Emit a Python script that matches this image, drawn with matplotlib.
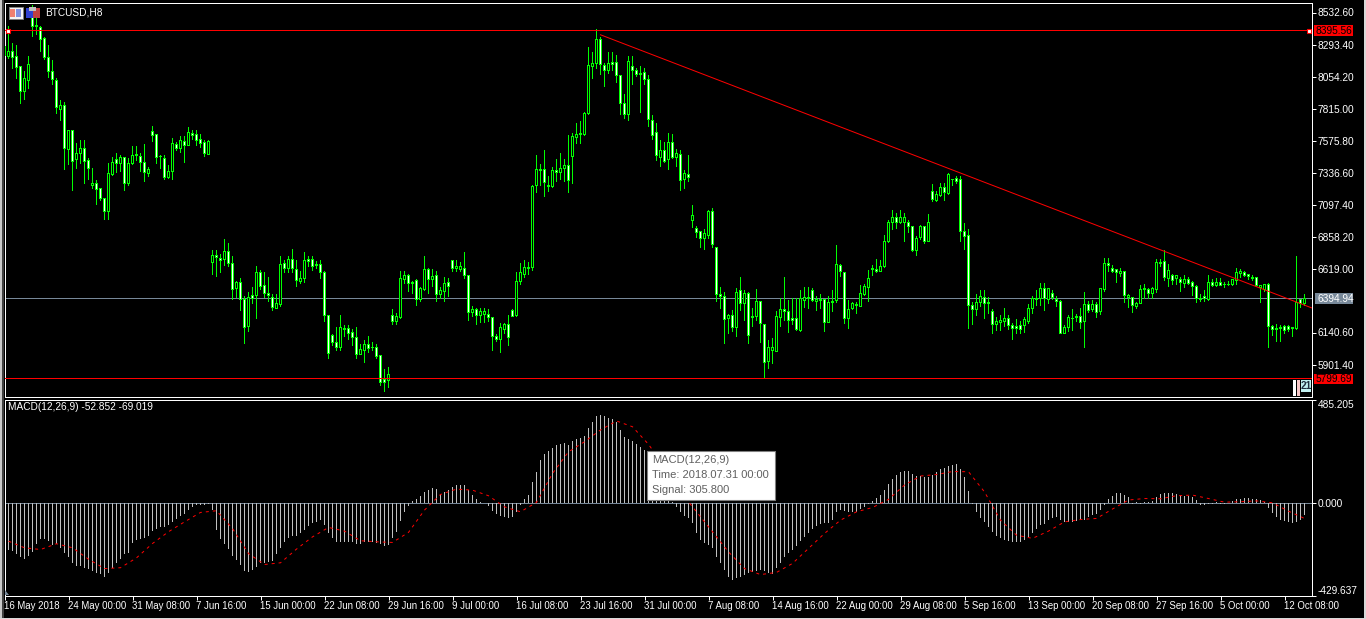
import matplotlib
matplotlib.use("Agg")
import matplotlib.pyplot as plt
from matplotlib.patches import Rectangle, Polygon
import numpy as np

# candles, one every 8 hours
highs = [
    8286,8428,8303,8293,8136,8099,8204,8585,8493,8435,8353,8286,8179,
    8044,7882,7867,7658,7658,7558,7581,7581,7446,7371,7284,7222,7147,
    7409,7451,7486,7469,7446,7446,7531,7533,7486,7546,7381,7685,7626,
    7464,7464,7396,7591,7568,7606,7606,7680,7655,7658,7626,7583,7581,
    6754,6761,6729,6836,6808,6716,6529,6549,6417,6447,6479,6634,6609,
    6592,6552,6425,6425,6716,6679,6709,6764,6679,6597,6739,6716,6709,
    6674,6679,6604,6273,6126,6185,6275,6193,6200,6170,6185,6056,6081,
    6111,6066,6056,5969,5871,5879,6320,6290,6597,6597,6579,6522,6542,
    6484,6716,6624,6617,6597,6484,6559,6549,6684,6679,6666,6739,6567,
    6335,6325,6325,6325,6313,6260,6131,6210,6210,6268,6320,6592,6659,
    6686,6666,7240,7469,7401,7506,7312,7381,7439,7486,7439,7618,7633,
    7708,7723,7790,8276,8234,8406,8353,8156,8239,8234,8216,8069,7920,
    8204,8211,8119,8136,8121,8067,7763,7703,7576,7568,7633,7628,7513,
    7506,7352,7464,7090,6933,6903,6915,7060,7072,6773,6482,6447,6280,
    6312,6474,6559,6455,6445,6327,6469,6372,6205,6088,6103,6298,6402,
    6559,6380,6402,6402,6455,6482,6484,6474,6410,6432,6390,6410,6455,
    6798,6654,6594,6387,6367,6367,6499,6504,6606,6646,6691,6679,6873,
    6978,7053,7035,7053,7035,6978,6940,6861,6945,6940,7028,7247,7202,
    7259,7259,7334,7289,7314,7314,6960,6911,6367,6425,6455,6455,6405,
    6317,6255,6273,6327,6268,6215,6238,6230,6260,6350,6417,6462,6509,
    6512,6474,6459,6417,6385,6193,6275,6317,6280,6322,6440,6375,6380,
    6365,6474,6699,6699,6646,6616,6621,6597,6430,6405,6372,6499,6504,
    6474,6484,6691,6691,6761,6654,6579,6574,6559,6567,6554,6524,6492,
    6430,6459,6567,6542,6547,6547,6517,6524,6542,6624,6612,6604,6579,
    6567,6559,6497,6504,6509,6193,6205,6193,6200,6200,6185,6716,6392,
    6425]
body_tops = [
    8278,8241,8241,8204,8129,8037,8144,8493,8433,8423,8336,8199,8094,
    8022,7835,7835,7648,7648,7476,7513,7513,7424,7252,7252,7215,7140,
    7327,7414,7431,7446,7446,7401,7461,7469,7454,7414,7357,7640,7618,
    7459,7444,7342,7551,7548,7576,7566,7633,7626,7618,7581,7558,7566,
    6714,6714,6691,6744,6744,6654,6512,6512,6385,6400,6415,6587,6587,
    6489,6430,6405,6355,6646,6654,6684,6684,6614,6542,6676,6684,6684,
    6649,6646,6587,6265,6121,6063,6178,6170,6168,6138,6106,6011,6048,
    6048,6031,6026,5966,5789,5824,6265,6258,6542,6567,6567,6514,6527,
    6467,6609,6609,6559,6567,6455,6504,6514,6679,6631,6631,6617,6564,
    6310,6310,6295,6295,6275,6250,6111,6175,6198,6198,6302,6519,6587,
    6624,6624,7234,7357,7357,7357,7239,7349,7349,7369,7386,7386,7603,
    7623,7628,7775,8134,8149,8328,8328,8139,8149,8156,8156,8059,7855,
    8164,8126,8102,8074,8082,8034,7723,7633,7499,7499,7558,7558,7476,
    7469,7327,7324,7015,6915,6893,6878,7045,7043,6773,6425,6412,6268,
    6265,6437,6455,6430,6430,6263,6370,6370,6200,6026,6026,6258,6310,
    6310,6295,6243,6243,6392,6400,6400,6452,6390,6390,6385,6365,6372,
    6646,6639,6589,6315,6355,6352,6430,6482,6542,6621,6611,6636,6823,
    6960,7003,6998,7003,7003,6965,6935,6841,6930,6930,6960,7197,7170,
    7222,7222,7322,7287,7292,7282,6898,6863,6345,6362,6407,6405,6365,
    6300,6220,6228,6243,6243,6190,6183,6190,6235,6317,6392,6392,6467,
    6467,6467,6430,6390,6372,6180,6250,6248,6260,6260,6350,6347,6347,
    6347,6467,6654,6654,6619,6609,6594,6594,6415,6400,6355,6459,6467,
    6459,6467,6664,6664,6669,6601,6564,6564,6539,6539,6539,6517,6484,
    6392,6410,6517,6517,6517,6517,6502,6502,6534,6592,6594,6592,6577,
    6549,6552,6492,6497,6502,6185,6173,6175,6183,6185,6175,6367,6385,
    6392]
body_bottoms = [
    8211,8206,8199,8124,7945,7945,8027,8430,8425,8328,8199,8094,8029,
    7820,7810,7513,7506,7421,7431,7481,7421,7369,7237,7212,7145,7047,
    7047,7322,7406,7401,7257,7257,7406,7464,7409,7334,7332,7616,7451,
    7454,7302,7302,7342,7518,7513,7541,7541,7616,7578,7556,7476,7471,
    6666,6699,6681,6684,6654,6459,6472,6385,6180,6188,6397,6415,6487,
    6430,6420,6330,6322,6347,6622,6622,6616,6527,6524,6542,6674,6636,
    6644,6587,6265,5986,6063,6031,6031,6163,6136,6106,5976,5979,6008,
    6023,6026,5964,5769,5769,5782,6223,6225,6255,6537,6509,6504,6390,
    6390,6464,6539,6539,6427,6427,6450,6484,6622,6616,6614,6564,6293,
    6293,6270,6270,6278,6255,6108,6091,6091,6165,6106,6263,6268,6519,
    6574,6619,6624,7242,7352,7259,7234,7234,7339,7339,7369,7279,7454,
    7601,7621,7621,7780,8131,8154,8141,8102,8102,8146,8059,7855,7773,
    7773,8102,8067,8067,8034,7730,7616,7461,7451,7416,7431,7451,7451,
    7279,7287,7302,6978,6891,6846,6846,6868,6801,6422,6410,6235,6248,
    6180,6180,6355,6355,6116,6255,6263,6205,5919,5926,6008,5999,6255,
    6300,6233,6233,6163,6158,6382,6392,6382,6375,6380,6213,6218,6362,
    6380,6594,6248,6248,6322,6340,6337,6425,6479,6609,6599,6599,6636,
    6823,6960,6965,6965,6960,6935,6756,6751,6848,6823,6823,7132,7127,
    7165,7187,7182,7282,7272,6898,6861,6345,6315,6315,6362,6355,6355,
    6203,6203,6215,6225,6190,6173,6173,6165,6190,6225,6317,6387,6392,
    6392,6390,6402,6370,6136,6136,6180,6243,6250,6218,6220,6305,6310,
    6293,6298,6464,6639,6594,6587,6584,6415,6400,6345,6335,6355,6459,
    6435,6435,6459,6659,6549,6547,6529,6542,6514,6507,6504,6484,6392,
    6387,6392,6390,6492,6492,6492,6497,6497,6497,6529,6584,6567,6559,
    6542,6489,6474,6464,6183,6160,6160,6168,6155,6163,6170,6170,6355,
    6355]
lows = [
    8186,8186,8111,8032,7845,7875,7962,8353,8361,8241,8174,8042,7994,
    7775,7725,7359,7389,7202,7364,7401,7247,7284,7215,7090,7120,6978,
    6985,7307,7332,7337,7195,7232,7389,7421,7337,7269,7302,7568,7401,
    7366,7284,7289,7277,7494,7486,7404,7531,7583,7538,7523,7456,7464,
    6574,6554,6584,6641,6629,6380,6400,6298,6051,6148,6350,6238,6455,
    6400,6372,6305,6313,6330,6589,6589,6589,6479,6504,6514,6629,6599,
    6614,6537,6218,5946,6036,6001,6006,6106,6086,6043,5946,5974,5909,
    5986,6001,5946,5737,5699,5729,6193,6193,6243,6504,6447,6425,6335,
    6372,6450,6425,6484,6367,6392,6367,6405,6592,6592,6592,6537,6223,
    6253,6193,6210,6210,6218,6006,6073,5991,6131,6036,6255,6260,6492,
    6549,6567,6604,7187,7239,7157,7194,7219,7269,7284,7262,7187,7254,
    7546,7553,7606,7770,8039,8114,8069,7972,8074,8099,8009,7770,7740,
    7718,7987,8049,7778,7994,7680,7576,7419,7374,7409,7359,7441,7381,
    7202,7217,7269,6923,6846,6771,6754,6841,6771,6372,6315,6053,6133,
    6146,6106,6298,6225,6051,6183,6225,6061,5797,5866,5904,5994,6185,
    6225,6136,6193,6155,6141,6322,6315,6372,6300,6315,6141,6208,6293,
    6360,6554,6203,6170,6307,6278,6335,6415,6367,6562,6589,6597,6621,
    6808,6910,6915,6953,6816,6883,6746,6716,6833,6801,6816,7115,7115,
    7152,7120,7170,7232,7247,6816,6754,6170,6193,6263,6330,6238,6280,
    6126,6155,6151,6178,6160,6081,6133,6126,6135,6205,6280,6340,6342,
    6305,6350,6387,6330,6128,6135,6143,6155,6218,6168,6023,6290,6293,
    6250,6275,6440,6592,6589,6514,6554,6360,6325,6285,6317,6350,6392,
    6392,6392,6437,6629,6529,6479,6492,6492,6440,6474,6492,6412,6360,
    6367,6367,6375,6484,6484,6487,6474,6487,6487,6492,6547,6554,6534,
    6524,6479,6360,6447,6023,6113,6068,6068,6126,6148,6106,6160,6322,
    6342]
# U closed higher (black body), D closed lower (white body)
directions = (
    "UUDDDUUDDDDDD" "DUDUDUUDDUDDD" "UUDUDUUDDDUDD" "DDUUDUDUDDDDU" "UDDUDDUDDUDUD"
    "DDDUUDUDDUUDD" "DDDDDDUDDDDUU" "DDDDDUDUUUDDD" "UUDUDUUDDUUDD" "UDUUDDDUUDDUU"
    "UDUUDDUUDUUDU" "UDUUUUDDUDDDD" "UDDDDDDDUDUDU" "DUDUDDUUDDDDU" "DUDUDDUDDUUUU"
    "DDDDUUDDUDDUD" "UDDUUDUUUUDUU" "UUDUUDDUUDUDU" "UDUDDDDDDUUDD" "DUUUDDDDUUUDU"
    "DUDDDUUDDDUDU" "DUUDDDUDUDUUD" "DUUUDUDUDUDDD" "DDUDUDUDUUUDD" "UDUUDDUDDDDUD"
    "U")

# MACD histogram, one bar per candle from the second candle on
macd_bars = [
    -218,-223,-234,-252,-257,-246,-226,-187,-167,-167,-176,-192,-190,
    -206,-230,-249,-280,-290,-293,-300,-307,-313,-325,-330,-343,-324,
    -300,-277,-257,-234,-229,-185,-171,-168,-163,-153,-129,-120,-111,
    -112,-101,-87,-73,-58,-47,-31,-17,-8,-5,-8,-3,-31,
    -125,-167,-190,-213,-244,-265,-285,-316,-319,-311,-296,-280,-277,
    -272,-268,-234,-207,-182,-160,-153,-154,-140,-125,-106,-93,-86,
    -78,-101,-140,-163,-181,-181,-181,-181,-181,-190,-190,-181,-181,
    -181,-184,-190,-199,-195,-160,-134,-83,-42,-12,11,19,34,
    53,62,72,67,45,54,65,78,86,86,86,65,39,
    19,8,1,-12,-34,-51,-58,-62,-67,-62,-42,-8,20,
    39,98,145,202,229,244,260,272,277,282,272,293,300,
    307,316,353,381,409,413,409,400,394,378,343,308,300,
    291,277,265,249,234,202,160,117,78,39,8,-16,-39,
    -58,-70,-93,-140,-171,-184,-195,-210,-252,-280,-311,-343,-355,
    -347,-343,-335,-324,-319,-316,-311,-315,-324,-327,-299,-276,-252,
    -230,-218,-198,-174,-156,-137,-120,-104,-98,-93,-90,-78,-42,
    -31,-34,-39,-42,-39,-28,-16,-3,12,26,39,62,93,
    114,132,146,151,151,137,128,128,125,125,132,145,160,
    167,176,179,184,159,125,58,-3,-39,-70,-86,-109,-135,
    -151,-163,-171,-174,-179,-179,-179,-171,-157,-139,-121,-101,-97,
    -78,-70,-62,-78,-86,-86,-86,-83,-78,-78,-62,-55,-50,
    -31,-8,20,34,47,51,39,31,-1,5,-1,5,5,
    11,30,45,48,48,48,44,39,36,36,31,16,-5,
    -8,-1,-1,5,-1,-1,3,11,19,23,25,25,23,
    20,14,9,-20,-45,-62,-75,-83,-86,-92,-86,-75,-55]

# signal line, read at every fourth candle starting from the second
signal_step = 4
signal_values = [
    -176,-207,-215,-188,-207,-260,-304,-300,-254,-187,-132,-86,-42,-34,-117,-234,
    -285,-277,-213,-156,-112,-129,-174,-179,-182,-135,-31,42,67,62,36,-16,
    -39,5,140,241,288,343,385,358,276,171,54,-39,-132,-226,-304,-332,
    -322,-280,-210,-140,-78,-39,-19,19,86,128,135,149,148,54,-78,-148,
    -163,-129,-86,-75,-70,-26,16,23,22,36,39,23,6,8,12,3,-36,-70]

price_ticks = [8532.60, 8293.40, 8054.20, 7815.00, 7575.80, 7336.60, 7097.40,
               6858.20, 6619.00, 6140.60, 5901.40]
macd_ticks = [485.205, 0.0, -429.637]
time_labels = ["16 May 2018", "24 May 00:00", "31 May 08:00", "7 Jun 16:00", "15 Jun 00:00",
               "22 Jun 08:00", "29 Jun 16:00", "9 Jul 00:00", "16 Jul 08:00", "23 Jul 16:00",
               "31 Jul 00:00", "7 Aug 08:00", "14 Aug 16:00", "22 Aug 00:00", "29 Aug 08:00",
               "5 Sep 16:00", "13 Sep 00:00", "20 Sep 08:00", "27 Sep 16:00", "5 Oct 00:00",
               "12 Oct 08:00"]
time_step = 16

resistance = 8395.56
support = 5799.69
last_price = 6394.94
trend_bars = [149, 326.75]
trend_prices = [8366, 6325]

W, H = 1366, 619
GREEN = "#00FF00"
SLATE = "#778899"
PX = 0.72  # one screen pixel in points
BAR_PX = 0.25  # one screen pixel in candle units (4 px per candle)
PRICE_PX = 7.475  # one screen pixel in price units
plt.rcParams["font.family"] = ["Liberation Sans", "DejaVu Sans"]
plt.rcParams["font.size"] = 7.3


def pane(fig, left, top, right, bottom):
    return fig.add_axes([left / W, 1 - bottom / H, (right - left) / W, (bottom - top) / H])


def level(a, value, color, z):
    # a horizontal rule exactly one pixel row high
    a.axhspan(value - PRICE_PX / 2, value + PRICE_PX / 2, facecolor=color, edgecolor="none",
              linewidth=0, antialiased=False, zorder=z)


fig = plt.figure(figsize=(W / 100, H / 100), dpi=100, facecolor="black")
ax = pane(fig, 4.5, 2.5, 1311.5, 396.5)
ax2 = pane(fig, 4.5, 399.5, 1311.5, 595.5)

for a in [ax, ax2]:
    a.set_facecolor("black")
    a.set_xlim(0, 326.75)
    for s in a.spines.values():
        s.set_color("white")
        s.set_linewidth(PX)
    a.yaxis.tick_right()
    a.tick_params(axis="y", colors="white", length=3, width=PX, pad=1.5)

# candles: wick, green outline, then the one pixel fill inside it
bars = np.arange(len(highs))
tops = np.array(body_tops, dtype=float)
bottoms = np.array(body_bottoms, dtype=float)
fills = ["black" if d == "U" else "white" for d in directions]
level(ax, last_price, SLATE, 1)
ax.bar(bars, np.array(highs) - np.array(lows), bottom=lows, width=BAR_PX, color=GREEN,
       linewidth=0, antialiased=False, zorder=2)
ax.bar(bars, tops - bottoms + PRICE_PX, bottom=bottoms - PRICE_PX / 2, width=3 * BAR_PX, color=GREEN,
       linewidth=0, antialiased=False, zorder=3)
inner = np.clip(tops - bottoms - PRICE_PX, 0, None)
ax.bar(bars, inner, bottom=bottoms + PRICE_PX / 2, width=BAR_PX, color=fills,
       linewidth=0, antialiased=False, zorder=4)
level(ax, resistance, "#FF0000", 5)
level(ax, support, "#FF0000", 5)
ax.plot(trend_bars, trend_prices, color="#FF0000", lw=PX, zorder=5)
ax.set_ylim(5662.2, 8607.35)
ax.set_yticks(price_ticks)
ax.set_yticklabels(["%.2f" % p for p in price_ticks])
ax.set_xticks([])

# MACD
macd_x = bars[1:]
ax2.axhline(0, color=SLATE, lw=PX, antialiased=False, zorder=1)
ax2.bar(macd_x, macd_bars, width=BAR_PX, color="#C0C0C0", linewidth=0, antialiased=False, zorder=2)
ax2.plot(macd_x[::signal_step], signal_values, color="#FF0000", lw=PX, dashes=(3, 4), zorder=3)
ax2.set_ylim(-429.637, 485.205)
ax2.set_yticks(macd_ticks)
tick_text = ax2.set_yticklabels(["%.3f" % m for m in macd_ticks])
tick_text[0].set_va("top")
tick_text[-1].set_va("bottom")
ax2.set_xticks(np.arange(len(time_labels)) * time_step)
ax2.set_xticklabels(time_labels, ha="left", fontsize=6.9)
ax2.tick_params(axis="x", colors="white", length=3, width=PX, pad=1)

# screen furniture drawn in pixel coordinates on top of the panes
over = fig.add_axes([0, 0, 1, 1], facecolor="none")
over.set_xlim(0, W)
over.set_ylim(H, 0)
over.axis("off")


def box(x0, y0, x1, y1, fc, ec="none", lw=0.0, z=6):
    over.add_patch(Rectangle((x0, y0), x1 - x0, y1 - y0, facecolor=fc, edgecolor=ec, linewidth=lw, zorder=z))


box(0, 0, 1.5, H, "#C8C8C8")
box(1.5, 0, 3.5, H, "#404040")
box(0, 617.5, W, H, "#D8D8D8")
box(1364, 0, W, H, "#D8D8D8")

# price flags on the scale
box(1314, 25, 1353, 36, "#FF0000")
over.text(1316, 30.5, "8395.56", color="black", va="center", zorder=7)
box(1314, 374, 1353, 384, "#FF0000")
over.text(1316, 379, "5799.69", color="black", va="center", zorder=7)
box(1315, 293, 1353, 304, SLATE)
over.text(1317, 298.5, "6394.94", color="white", va="center", zorder=7)

# end handles of the selected level
for hx in [7.5, 1308.5]:
    box(hx - 2, 28.5, hx + 2, 32.5, "white", "#FF0000", 0.8, 7)

# window icons
box(8.5, 6.5, 22.5, 18.5, "#F4F4F4", "#808080", 0.7, 7)
box(10, 9, 15, 17, "#F08070", z=8)
box(16, 9, 21, 17, "#8090E0", z=8)
box(25.5, 7.5, 33, 17.5, "#3040D0", z=7)
box(33, 7.5, 40, 17.5, "#C04040", z=7)
box(29, 7, 36, 11, "#C0C0C0", z=8)
over.text(45, 12.5, "BTCUSD,H8", color="white", va="center", zorder=7)
over.text(8, 407.5, "MACD(12,26,9) -52.852 -69.019", color="white", va="center", zorder=7)

# small scale buttons, lower right of the price pane
box(1293, 380, 1295.5, 396, "white")
box(1297, 380, 1299.5, 396, "#F8C8C8")
box(1301, 380, 1311, 392, "#C0F0F0")
over.text(1306, 386, "21", color="#203040", ha="center", va="center", fontweight="bold", zorder=7)

over.add_patch(Polygon([(5, 590), (5, 595), (9, 595)], facecolor=SLATE, edgecolor="none", zorder=6))

# hover tooltip
box(647, 451, 775, 499.5, "white", "#808080", 0.8, 8)
for ty, line in zip([460, 475, 490], ["MACD(12,26,9)", "Time: 2018.07.31 00:00", "Signal: 305.800"]):
    over.text(652, ty, line, color="#606060", va="center", fontsize=8.0, zorder=9)

fig.savefig("out.png", dpi=100, facecolor="black")
